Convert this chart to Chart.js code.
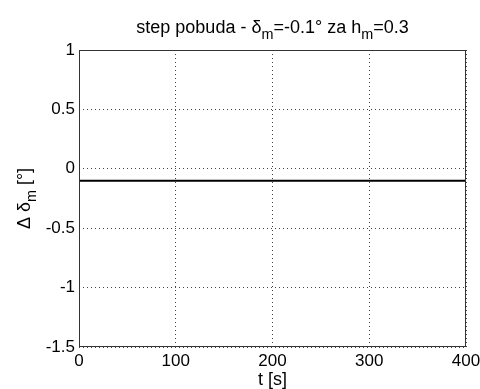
<!DOCTYPE html>
<html>
<head>
<meta charset="utf-8">
<script src="https://cdn.jsdelivr.net/npm/chart.js@4"></script>
<style>
  html, body { margin: 0; padding: 0; background: #fff; }
  #wrap { width: 480px; height: 389px; }
</style>
</head>
<body>
<div id="wrap"><canvas id="odziv"></canvas></div>
<script>
// odziv na step pobudu
const vrijeme = [0, 400];
const deltaM = [-0.1, -0.1];
const xTicks = [0, 100, 200, 300, 400];
const yTicks = [-1.5, -1, -0.5, 0, 0.5, 1];

const FONT = 'Arial, "Liberation Sans", sans-serif';

// tekst s indeksom (npr. δ_m)
function crtajSIndeksom(ctx, dijelovi, x, y, vel, centar) {
    let ukupno = 0;
    dijelovi.forEach(d => {
        ctx.font = (d.sub ? vel * 0.8 : vel) + 'px ' + FONT;
        ukupno += ctx.measureText(d.t).width;
    });
    let px = centar ? x - ukupno / 2 : x;
    dijelovi.forEach(d => {
        ctx.font = (d.sub ? vel * 0.8 : vel) + 'px ' + FONT;
        ctx.fillText(d.t, px, d.sub ? y + vel * 0.33 : y);
        px += ctx.measureText(d.t).width;
    });
}

const natpisi = {
    id: 'natpisi',
    afterDraw(chart) {
        const ctx = chart.ctx;
        const a = chart.chartArea;
        const sredina = (a.left + a.right) / 2;
        ctx.save();
        ctx.fillStyle = '#000';
        ctx.textBaseline = 'alphabetic';
        ctx.textAlign = 'left';
        crtajSIndeksom(ctx, [
            { t: 'step pobuda - δ' }, { t: 'm', sub: true },
            { t: '=-0.1° za h' }, { t: 'm', sub: true }, { t: '=0.3' }
        ], sredina, 33, 18, true);

        ctx.font = '18px ' + FONT;
        ctx.textAlign = 'center';
        ctx.fillText('t [s]', sredina, 385);

        ctx.translate(30, (a.top + a.bottom) / 2);
        ctx.rotate(-Math.PI / 2);
        ctx.textAlign = 'left';
        crtajSIndeksom(ctx, [
            { t: 'Δ δ' }, { t: 'm', sub: true }, { t: ' [°]' }
        ], 0, 0, 18, true);
        ctx.restore();

        // okvir
        ctx.save();
        ctx.strokeStyle = '#333';
        ctx.lineWidth = 1;
        ctx.strokeRect(a.left + 0.5, a.top + 0.5, a.right - a.left - 1, a.bottom - a.top - 1);
        ctx.restore();
    }
};

new Chart(document.getElementById('odziv'), {
    type: 'line',
    data: {
        datasets: [{
            data: vrijeme.map((t, i) => ({ x: t, y: deltaM[i] })),
            borderColor: '#000',
            borderWidth: 2,
            pointRadius: 0,
            fill: false,
            tension: 0
        }]
    },
    options: {
        responsive: true,
        maintainAspectRatio: false,
        animation: false,
        layout: { padding: { top: 50, right: 14, left: 0, bottom: 0 } },
        plugins: {
            legend: { display: false },
            tooltip: { enabled: false }
        },
        scales: {
            x: {
                type: 'linear',
                min: 0, max: 400,
                afterBuildTicks: s => { s.ticks = xTicks.map(v => ({ value: v })); },
                afterFit: s => { s.height = 42; s.paddingLeft = 0; s.paddingRight = 0; },
                grid: { color: '#444', lineWidth: 1, drawTicks: false },
                border: { display: false, dash: [1, 3] },
                ticks: { color: '#000', font: { family: FONT, size: 17 }, padding: 4, maxRotation: 0,
                         callback: v => String(v) }
            },
            y: {
                type: 'linear',
                min: -1.5, max: 1,
                afterBuildTicks: s => { s.ticks = yTicks.map(v => ({ value: v })); },
                afterFit: s => { s.width = 79; s.paddingTop = 0; s.paddingBottom = 0; },
                grid: { color: '#444', lineWidth: 1, drawTicks: false },
                border: { display: false, dash: [1, 3] },
                ticks: { color: '#000', font: { family: FONT, size: 17 }, padding: 4,
                         callback: v => String(v) }
            }
        }
    },
    plugins: [natpisi]
});
</script>
</body>
</html>
